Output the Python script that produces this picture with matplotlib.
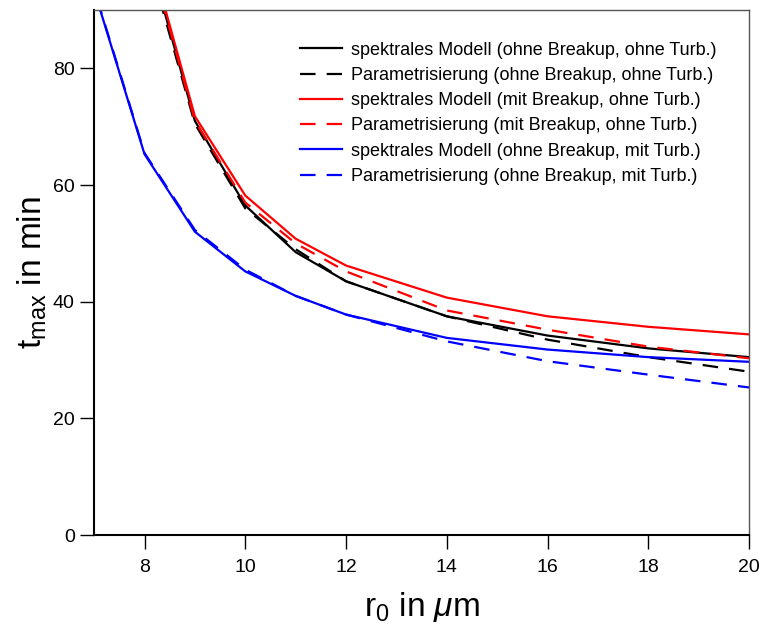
import matplotlib
matplotlib.use("Agg")
import matplotlib.pyplot as plt

plt.rcParams['font.family'] = ['Liberation Sans', 'DejaVu Sans']
plt.rcParams['mathtext.fontset'] = 'custom'
plt.rcParams['mathtext.rm'] = 'Liberation Sans'
plt.rcParams['mathtext.it'] = 'Liberation Sans:italic'

x_a = [8, 9, 10, 11, 12, 14, 16, 18, 20]
black_solid = [102, 71.0, 56.5, 48.5, 43.5, 37.5, 34.2, 32.0, 30.5]
black_dash = [101, 70.5, 56.0, 49.0, 43.5, 37.5, 33.5, 30.5, 28.0]
red_solid = [103, 71.8, 58.2, 50.8, 46.2, 40.7, 37.5, 35.7, 34.4]
red_dash = [102.5, 71.0, 57.0, 50.0, 45.2, 38.5, 35.2, 32.3, 30.3]

x_b = [7, 8, 9, 10, 11, 12, 14, 16, 18, 20]
blue_solid = [93.4, 65.3, 52.0, 45.2, 41.0, 37.8, 33.8, 31.8, 30.5, 29.7]
blue_dash = [93.6, 65.5, 52.3, 45.5, 41.0, 37.8, 33.2, 29.8, 27.5, 25.3]

labels = [
    "spektrales Modell (ohne Breakup, ohne Turb.)",
    "Parametrisierung (ohne Breakup, ohne Turb.)",
    "spektrales Modell (mit Breakup, ohne Turb.)",
    "Parametrisierung (mit Breakup, ohne Turb.)",
    "spektrales Modell (ohne Breakup, mit Turb.)",
    "Parametrisierung (ohne Breakup, mit Turb.)",
]

fig = plt.figure(figsize=(7.59, 6.28), dpi=100)
ax = fig.add_axes([0.124, 0.148, 0.863, 0.836])

dash = (7, 5)
lw = 1.6
ax.plot(x_a, black_solid, color='black', lw=lw, label=labels[0])
ax.plot(x_a, black_dash, color='black', lw=lw, dashes=dash, label=labels[1])
ax.plot(x_a, red_solid, color='#ff0000', lw=lw, label=labels[2])
ax.plot(x_a, red_dash, color='#ff0000', lw=lw, dashes=dash, label=labels[3])
ax.plot(x_b, blue_solid, color='#0000ff', lw=lw, label=labels[4])
ax.plot(x_b, blue_dash, color='#0000ff', lw=lw, dashes=dash, label=labels[5])

ax.set_xlim(7, 20)
ax.set_ylim(0, 90)
ax.set_xticks([8, 10, 12, 14, 16, 18, 20])
ax.set_yticks([0, 20, 40, 60, 80])
ax.tick_params(direction='out', length=10, width=1, labelsize=14)
ax.tick_params(axis='x', pad=7)
ax.tick_params(axis='y', pad=4)
for s in ['left', 'bottom']:
    ax.spines[s].set_linewidth(1.5)
for s in ['top', 'right']:
    ax.spines[s].set_linewidth(1.0)
    ax.spines[s].set_color('#555555')

ax.set_xlabel(r"r$_0$ in $\mathit{\mu}$m", fontsize=24, labelpad=10)
ax.set_ylabel(r"t$_{\mathrm{max}}$ in min", fontsize=24, labelpad=3)

ax.legend(loc='upper left', bbox_to_anchor=(0.3145, 0.940), frameon=False,
          borderpad=0, borderaxespad=0,
          fontsize=13, handlelength=2.3, labelspacing=0.46, handletextpad=0.5)

fig.savefig("out.png", dpi=100)
